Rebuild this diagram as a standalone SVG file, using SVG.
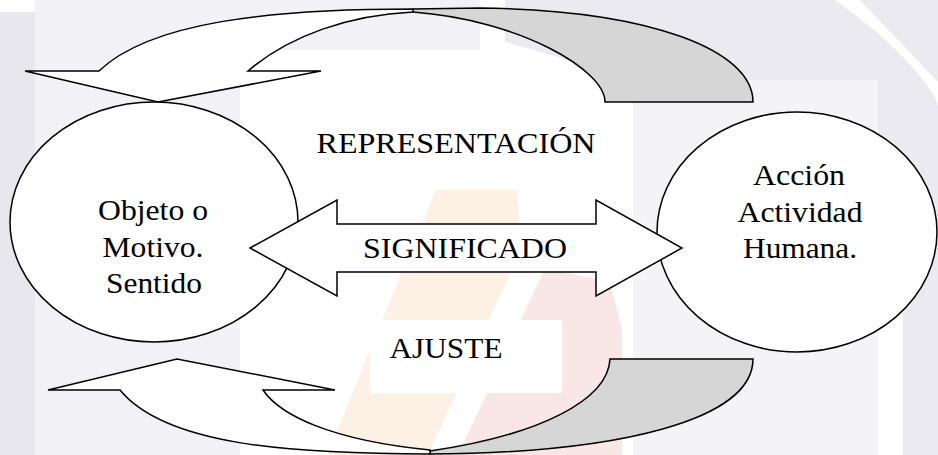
<svg xmlns="http://www.w3.org/2000/svg" width="938" height="455" viewBox="0 0 938 455">
<style>
.shape{stroke:#000;stroke-width:1.5;stroke-linejoin:miter}
.w{fill:#fff}
.g{fill:#d6d6d6}
.t{font-family:"Liberation Serif","Times New Roman",serif;font-size:29px;fill:#000;text-anchor:middle}
.l{font-size:30px}
</style>
<rect width="938" height="455" fill="#fff"/>
<g id="watermark">
<rect x="0" y="12" width="35" height="443" fill="#e7e7ed"/>
<rect x="35" y="0" width="205" height="455" fill="#f2f2f6"/>
<rect x="35" y="0" width="445" height="50" fill="#f2f2f6"/>
<path d="M505,0 L835,0 C885,35 930,80 938,105 L938,455 L903,455 L903,300 C888,200 790,115 640,80 L505,42 Z" fill="#eaeaf0"/>
<path d="M860,0 L938,0 L938,82 Z" fill="#eaeaf0"/>
<rect x="633" y="80" width="245" height="375" fill="#f4f4f7"/>
<path d="M437,187 L517,187 L522,248 L428,455 L327,455 Z" fill="#fdf1e6"/>
<path d="M545,268 L610,282 L622,330 L622,455 L458,455 Z" fill="#f9e6e7"/>
<rect x="300" y="112" width="333" height="78" fill="#fff"/>
</g>
<g id="connectors">
<path id="top-back" class="shape g" d="M413,9 L480,8 C650,10 753,50 753,102 L605,102 C605,70 520,20 413,12 Z"/>
<path id="top-front" class="shape w" d="M99,71 C150,22 270,9 413,9 L413,12 C350,15 290,35 248,71 L321,71 L158,102 L25,71 Z"/>
<path id="bottom-back" class="shape g" d="M610,359 L753,359 C753,420 620,453 430,454 L430,451 C540,435 608,400 610,359 Z"/>
<path id="bottom-front" class="shape w" d="M120,390 C165,445 290,454 430,454 L430,450 C330,440 280,415 263,390 L335,390 L177,359 L48,390 Z"/>
</g>
<g id="node-objeto">
<ellipse class="shape w" cx="154" cy="222" rx="144" ry="120"/>
<text class="t"><tspan x="153" y="220" textLength="110" lengthAdjust="spacingAndGlyphs">Objeto o</tspan><tspan x="153" y="257" textLength="101" lengthAdjust="spacingAndGlyphs">Motivo.</tspan><tspan x="154" y="293" textLength="96" lengthAdjust="spacingAndGlyphs">Sentido</tspan></text>
</g>
<g id="node-accion">
<ellipse class="shape w" cx="797" cy="232" rx="140" ry="120"/>
<text class="t"><tspan x="799" y="185" textLength="92" lengthAdjust="spacingAndGlyphs">Acción</tspan><tspan x="800" y="222" textLength="125" lengthAdjust="spacingAndGlyphs">Actividad</tspan><tspan x="800" y="258" textLength="114" lengthAdjust="spacingAndGlyphs">Humana.</tspan></text>
</g>
<g id="significado">
<path class="shape w" d="M250,248 L337,200 L337,224 L596,224 L596,200 L682,248 L596,296 L596,272 L337,272 L337,296 Z"/>
<text class="t l" x="465" y="258" textLength="204" lengthAdjust="spacingAndGlyphs">SIGNIFICADO</text>
</g>
<g id="representacion">
<text class="t l" x="456" y="153" textLength="279" lengthAdjust="spacingAndGlyphs">REPRESENTACIÓN</text>
</g>
<g id="ajuste">
<rect x="370" y="320" width="192" height="73" fill="#fff"/>
<text class="t l" x="446" y="358" textLength="113" lengthAdjust="spacingAndGlyphs">AJUSTE</text>
</g>
</svg>
